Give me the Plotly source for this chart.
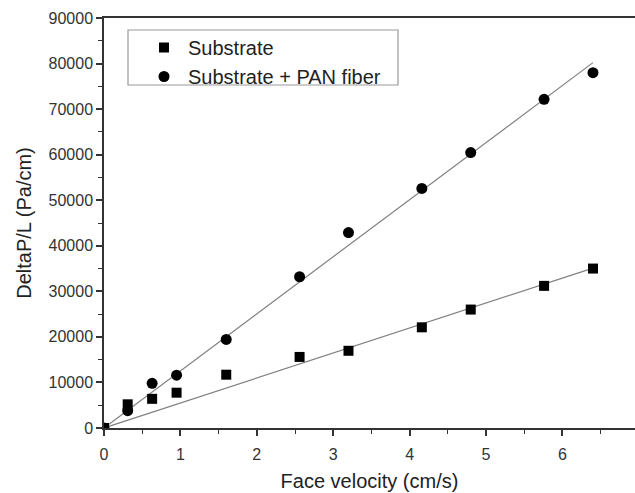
import plotly.graph_objects as go

velocity = [0, 0.31, 0.63, 0.95, 1.6, 2.56, 3.2, 4.16, 4.8, 5.76, 6.4]
substrate = [0, 5200, 6400, 7750, 11700, 15600, 16950, 22100, 26000, 31200, 35000]
pan_fiber = [0, 3800, 9800, 11600, 19450, 33200, 42900, 52600, 60450, 72150, 78000]

fit_x = [0, 6.4]
fit_substrate = [0, 35100]
fit_pan = [0, 80200]

x_range = [0, 6.95]
y_range = [0, 90000]

FONT = "Arial, Liberation Sans, Helvetica, sans-serif"

fig = go.Figure()
line_style = dict(color="#808080", width=1.2)
fig.add_trace(go.Scatter(x=fit_x, y=fit_substrate, mode="lines", line=line_style,
                         showlegend=False, hoverinfo="skip"))
fig.add_trace(go.Scatter(x=fit_x, y=fit_pan, mode="lines", line=line_style,
                         showlegend=False, hoverinfo="skip"))
fig.add_trace(go.Scatter(x=velocity, y=substrate, mode="markers", name="Substrate",
                         legendgroup="a",
                         marker=dict(symbol="square", size=10, color="black")))
fig.add_trace(go.Scatter(x=velocity, y=pan_fiber, mode="markers", name="Substrate + PAN fiber",
                         legendgroup="b",
                         marker=dict(symbol="circle", size=11, color="black")))

axis_common = dict(
    showgrid=False, zeroline=False, showline=True, linecolor="#333333", linewidth=1.5,
    ticks="outside", ticklen=6, tickwidth=1.5, tickcolor="#333333", tickformat="d",
    tickfont=dict(family=FONT, size=16, color="#333333"),
)
fig.update_xaxes(range=x_range, dtick=1, tick0=0, mirror=True, ticklabelstandoff=5,
                 minor=dict(ticks="outside", ticklen=4, tickwidth=1.2, tickcolor="#333333", dtick=0.5),
                 title=dict(text="Face velocity (cm/s)", standoff=12,
                            font=dict(family=FONT, size=20, color="#222222")),
                 **axis_common)
fig.update_yaxes(range=y_range, dtick=10000, tick0=0, mirror=False,
                 minor=dict(ticks="outside", ticklen=4, tickwidth=1.2, tickcolor="#333333", dtick=5000),
                 title=dict(text="DeltaP/L (Pa/cm)", standoff=12,
                            font=dict(family=FONT, size=20, color="#222222")),
                 **axis_common)

# legend box
fig.add_shape(type="rect", xref="paper", yref="paper",
              x0=(128 - 104) / 531, x1=(398 - 104) / 531,
              y0=(428 - 85) / 410, y1=(428 - 30) / 410,
              line=dict(color="#999999", width=1.2), fillcolor="rgba(0,0,0,0)")

fig.update_layout(
    width=635, height=493,
    margin=dict(l=104, r=0, t=18, b=65),
    plot_bgcolor="white", paper_bgcolor="white",
    legend=dict(x=(140 - 104) / 531, y=(428 - 28) / 410, xanchor="left", yanchor="top",
                bgcolor="rgba(0,0,0,0)", borderwidth=0, traceorder="grouped", tracegroupgap=0,
                itemwidth=38,
                font=dict(family=FONT, size=20, color="#222222")),
)

fig.write_html("out.html")
